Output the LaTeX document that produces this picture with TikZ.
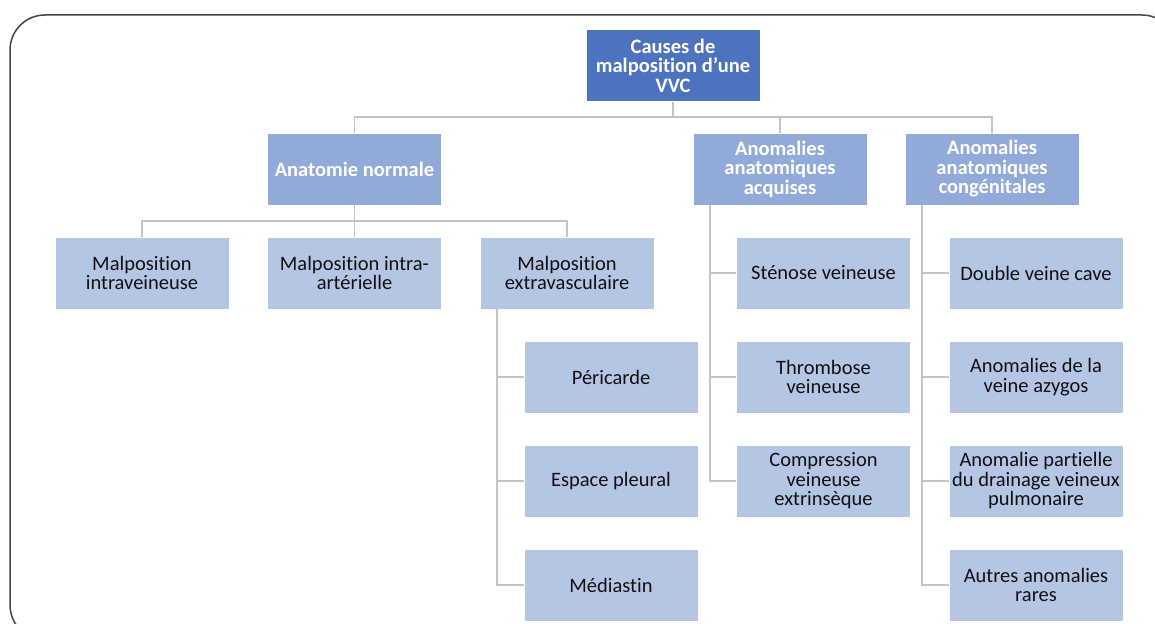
\documentclass[tikz,border=0pt]{standalone}
\usepackage{fontspec}
\setmainfont{Carlito}[Ligatures=NoCommon]
\definecolor{rootc}{HTML}{4E73BE}
\definecolor{lonec}{HTML}{92AADA}
\definecolor{ltwoc}{HTML}{B5C6E5}
\definecolor{connc}{HTML}{C4C4C4}
\definecolor{framec}{HTML}{444444}
\definecolor{txtc}{HTML}{111111}
\begin{document}
\begin{tikzpicture}[x=1pt,y=-1pt,
  box/.style={rectangle,draw=white,line width=0.8pt,minimum width=174pt,minimum height=72pt,inner sep=0.5pt,align=center,font=\fontsize{20.5}{19.5}\selectfont},
  rootbox/.style={box,fill=rootc,text=white,font=\fontsize{20.5}{19.5}\selectfont\bfseries},
  levelone/.style={box,fill=lonec,text=white,font=\fontsize{20.5}{19.5}\selectfont\bfseries},
  leveltwo/.style={box,fill=ltwoc,text=txtc},
  conn/.style={draw=connc,line width=1.2pt}]
\clip (0,0) rectangle (1155,623);
\draw[framec,line width=1.5pt,rounded corners=35pt] (10,15) rectangle (1177,640);

\node[rootbox] (root) at (673,65.5) {Causes de\\malposition d’une\\VVC};

\node[levelone] (anat) at (354.5,169) {Anatomie normale};
\node[levelone] (acq) at (780,169) {Anomalies\\anatomiques\\acquises};
\node[levelone] (cong) at (992,169) {Anomalies\\anatomiques\\congénitales};

\node[leveltwo] (intrav) at (142,273) {Malposition\\intraveineuse};
\node[leveltwo] (intraa) at (354.5,273) {Malposition intra-\\artérielle};
\node[leveltwo] (extra) at (567,273) {Malposition\\extravasculaire};

\node[leveltwo] (peri) at (611,377) {Péricarde};
\node[leveltwo] (pleur) at (611,481) {Espace pleural};
\node[leveltwo] (medi) at (611,585) {Médiastin};

\node[leveltwo] (sten) at (823.5,273) {Sténose veineuse};
\node[leveltwo] (thromb) at (823.5,377) {Thrombose\\veineuse};
\node[leveltwo] (compr) at (823.5,481) {Compression\\veineuse\\extrinsèque};

\node[leveltwo] (dvc) at (1036,273) {Double veine cave};
\node[leveltwo] (azyg) at (1036,377) {Anomalies de la\\veine azygos};
\node[leveltwo] (drain) at (1036,481) {Anomalie partielle\\du drainage veineux\\pulmonaire};
\node[leveltwo] (autres) at (1036,585) {Autres anomalies\\rares};

\coordinate (busone) at (673,117);
\coordinate (bustwo) at (354.5,221);
\coordinate (railx) at (497,309);
\coordinate (raila) at (710,205);
\coordinate (railc) at (922,205);

\draw[conn] (root.south) -- (busone);
\draw[conn] (busone) -| (anat.north);
\draw[conn] (busone) -| (acq.north);
\draw[conn] (busone) -| (cong.north);

\draw[conn] (anat.south) -- (bustwo);
\draw[conn] (bustwo) -| (intrav.north);
\draw[conn] (bustwo) -| (intraa.north);
\draw[conn] (bustwo) -| (extra.north);

\draw[conn] (railx) |- (peri.west);
\draw[conn] (railx) |- (pleur.west);
\draw[conn] (railx) |- (medi.west);

\draw[conn] (raila) |- (sten.west);
\draw[conn] (raila) |- (thromb.west);
\draw[conn] (raila) |- (compr.west);

\draw[conn] (railc) |- (dvc.west);
\draw[conn] (railc) |- (azyg.west);
\draw[conn] (railc) |- (drain.west);
\draw[conn] (railc) |- (autres.west);
\end{tikzpicture}
\end{document}
